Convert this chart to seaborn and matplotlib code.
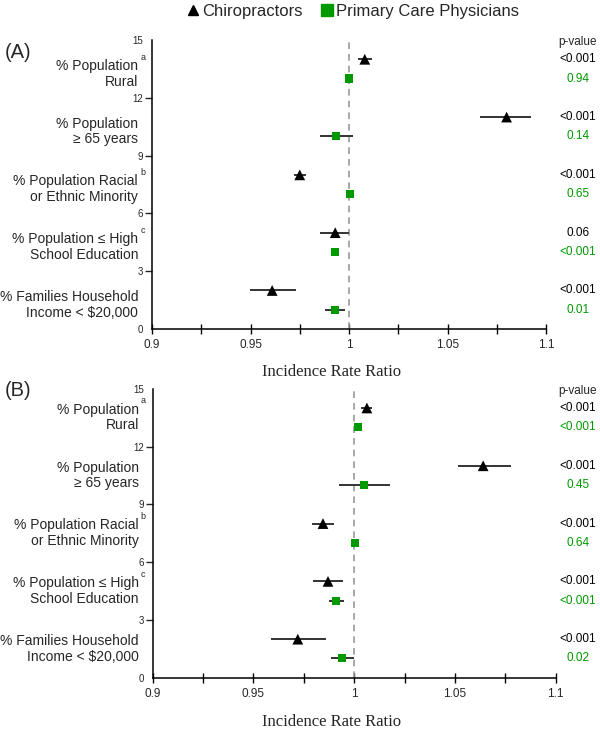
import pandas as pd
import matplotlib.pyplot as plt
import seaborn as sns
from matplotlib.lines import Line2D
from matplotlib.transforms import blended_transform_factory

# Measures, top to bottom
measures = ["% Population\nRural",
            "% Population\n≥ 65 years",
            "% Population Racial\nor Ethnic Minority",
            "% Population ≤ High\nSchool Education",
            "% Families Household\nIncome < \\$20,000"]
sups = ["a", "", "b", "c", ""]
groups = ["Chiropractors", "Primary Care Physicians"]

# Panel A: incidence rate ratios with 95% CI
a_chiro_irr = [1.008, 1.080, 0.975, 0.993, 0.961]
a_chiro_lo = [1.0045, 1.0665, 0.972, 0.9855, 0.9495]
a_chiro_hi = [1.0115, 1.0925, 0.978, 1.000, 0.973]
a_pcp_irr = [1.000, 0.9935, 1.0004, 0.993, 0.993]
a_pcp_lo = [0.999, 0.9855, 0.9995, 0.991, 0.988]
a_pcp_hi = [1.001, 1.002, 1.0013, 0.995, 0.998]
a_chiro_p = ["<0.001", "<0.001", "<0.001", "0.06", "<0.001"]
a_pcp_p = ["0.94", "0.14", "0.65", "<0.001", "0.01"]

# Panel B
b_chiro_irr = [1.0063, 1.064, 0.9845, 0.987, 0.972]
b_chiro_lo = [1.0035, 1.0513, 0.979, 0.9795, 0.9587]
b_chiro_hi = [1.009, 1.078, 0.990, 0.9944, 0.986]
b_pcp_irr = [1.002, 1.005, 1.0005, 0.991, 0.994]
b_pcp_lo = [1.001, 0.9926, 0.9995, 0.9876, 0.9886]
b_pcp_hi = [1.003, 1.018, 1.0015, 0.995, 0.9997]
b_chiro_p = ["<0.001", "<0.001", "<0.001", "<0.001", "<0.001"]
b_pcp_p = ["<0.001", "0.45", "0.64", "<0.001", "0.02"]

GREEN = "#009900"
palette = {groups[0]: "black", groups[1]: GREEN}
markers = {groups[0]: "^", groups[1]: "s"}
sizes = {groups[0]: 60, groups[1]: 34}

sns.set_style("ticks")
plt.rcParams["font.family"] = ["Liberation Sans", "DejaVu Sans"]


def build(c_irr, c_lo, c_hi, p_irr, p_lo, p_hi):
    rows = []
    n = len(measures)
    for i, m in enumerate(measures):
        base = 3 * (n - 1 - i)
        rows.append(dict(Measure=m, Group=groups[0], IRR=c_irr[i],
                         Lower=c_lo[i], Upper=c_hi[i], Pos=base + 2))
        rows.append(dict(Measure=m, Group=groups[1], IRR=p_irr[i],
                         Lower=p_lo[i], Upper=p_hi[i], Pos=base + 1))
    return pd.DataFrame(rows)


def draw(ax, df, c_p, p_p, label_off):
    ax.axvline(1, color="#9a9a9a", ls=(0, (4, 3)), lw=1.2, zorder=1)
    ax.hlines(df["Pos"], df["Lower"], df["Upper"], color="#333333", lw=1.4, zorder=2)
    sns.scatterplot(data=df, x="IRR", y="Pos", hue="Group", style="Group", size="Group",
                    palette=palette, markers=markers, sizes=sizes, edgecolor="none",
                    legend=False, ax=ax, zorder=3)

    ax.set_xlim(0.9, 1.1)
    ax.set_ylim(0, 15)
    ax.set_xticks([0.9, 0.95, 1.0, 1.05, 1.1])
    ax.set_xticklabels(["0.9", "0.95", "1", "1.05", "1.1"])
    ax.set_xticks([0.925, 0.975, 1.025, 1.075], minor=True)
    ax.set_yticks([0, 3, 6, 9, 12, 15])
    ax.set_yticklabels(["0", "3", "6", "9", "12", "15"])
    ax.tick_params(axis="x", which="both", direction="inout", length=7, width=1,
                   labelsize=8.5, pad=4, color="black")
    ax.tick_params(axis="y", direction="out", length=5, width=1, labelsize=7, pad=1.5)
    ticks = ax.yaxis.get_major_ticks()
    ticks[0].tick1line.set_visible(False)
    ticks[-1].tick1line.set_visible(False)
    ax.set_xlabel("")
    ax.set_ylabel("")
    sns.despine(ax=ax)
    for s in ["left", "bottom"]:
        ax.spines[s].set_linewidth(1.1)
        ax.spines[s].set_color("black")

    # category labels on the left
    n = len(measures)
    for i, m in enumerate(measures):
        y = 3 * (n - 1 - i) + label_off
        ax.annotate(m, xy=(0, y), xycoords=("axes fraction", "data"),
                    xytext=(-10, 0), textcoords="offset points",
                    ha="right", va="center", fontsize=10, multialignment="right",
                    linespacing=1.15)
        if sups[i]:
            ax.annotate(sups[i], xy=(0, y), xycoords=("axes fraction", "data"),
                        xytext=(-8.5, 12), textcoords="offset points",
                        ha="left", va="center", fontsize=6.5)

    # p-values on the right
    tr = blended_transform_factory(ax.figure.transFigure, ax.transData)
    ax.text(0.963, 14.9, "p-value", transform=tr, ha="center", va="center", fontsize=8.5)
    for i in range(n):
        base = 3 * (n - 1 - i)
        ax.text(0.963, base + 2, c_p[i], transform=tr, ha="center", va="center",
                fontsize=8.5, color="black")
        ax.text(0.963, base + 1, p_p[i], transform=tr, ha="center", va="center",
                fontsize=8.5, color=GREEN)


fig = plt.figure(figsize=(6, 7.32), dpi=100)
axA = fig.add_axes([152 / 600, 1 - 329 / 732, 394 / 600, 289 / 732])
axB = fig.add_axes([152.7 / 600, 1 - 677.7 / 732, 403 / 600, 289 / 732])

dfA = build(a_chiro_irr, a_chiro_lo, a_chiro_hi, a_pcp_irr, a_pcp_lo, a_pcp_hi)
dfB = build(b_chiro_irr, b_chiro_lo, b_chiro_hi, b_pcp_irr, b_pcp_lo, b_pcp_hi)
draw(axA, dfA, a_chiro_p, a_pcp_p, 1.25)
draw(axB, dfB, b_chiro_p, b_pcp_p, 1.5)

fig.text(0.553, 1 - 372 / 732, "Incidence Rate Ratio", ha="center", va="center",
         fontsize=12, family=["Liberation Serif", "DejaVu Serif"])
fig.text(0.553, 1 - 722 / 732, "Incidence Rate Ratio", ha="center", va="center",
         fontsize=12, family=["Liberation Serif", "DejaVu Serif"])
fig.text(0.008, 1 - 52 / 732, "(A)", ha="left", va="center", fontsize=14.5)
fig.text(0.008, 1 - 390 / 732, "(B)", ha="left", va="center", fontsize=14.5)

handles = [Line2D([], [], marker="^", color="black", ls="None", markersize=6.5),
           Line2D([], [], marker="s", color=GREEN, ls="None", markersize=8)]
fig.legend(handles, groups, loc="center", bbox_to_anchor=(0.587, 0.984), ncol=2,
           frameon=False, fontsize=12, handletextpad=0.1, columnspacing=1.0,
           handlelength=0.9, borderaxespad=0)

fig.savefig("out.png", dpi=100)
